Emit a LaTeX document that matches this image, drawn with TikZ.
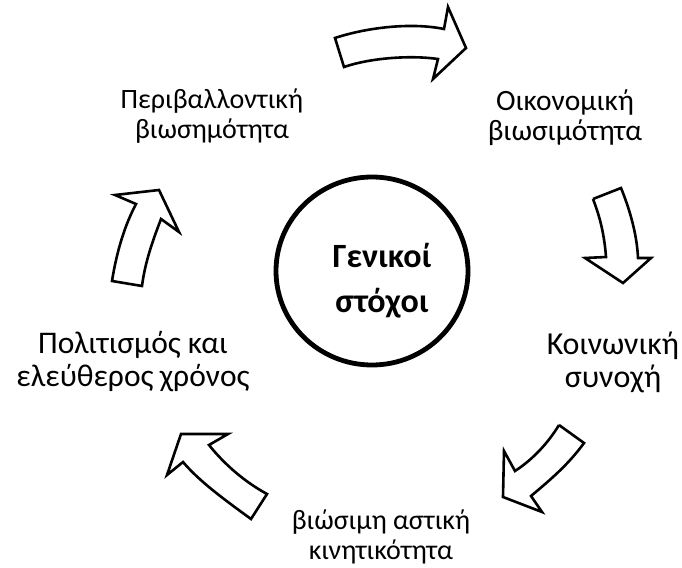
\documentclass[tikz,border=0pt]{standalone}
\usepackage{fontspec}
\setmainfont{Carlito}
\begin{document}
\begin{tikzpicture}[x=1pt,y=-1pt,
  label/.style={align=center,inner sep=0pt},
  goal/.style={align=center,inner sep=0pt,font=\fontsize{34}{45}\selectfont\bfseries},
  bentarrow/.style={draw=black,fill=white,line width=2.6pt,line join=miter}]
\useasboundingbox (0,0) rectangle (682,567);

% central goal
\draw[line width=4.8pt] (372,271) ellipse (96pt and 94pt);
\node[goal] (goal) at (382,281) {Γενικοί\\στόχοι};

% the five themes
\node[label,font=\fontsize{28}{30}\selectfont] (env) at (212,116) {Περιβαλλοντική\\βιωσημότητα};
\node[label,font=\fontsize{29.5}{30}\selectfont] (eco) at (565,118) {Οικονομική\\βιωσιμότητα};
\node[label,font=\fontsize{32}{33}\selectfont] (soc) at (613,362) {Κοινωνική\\συνοχή};
\node[label,font=\fontsize{28}{30}\selectfont] (mob) at (381,537) {βιώσιμη αστική\\κινητικότητα};
\node[label,font=\fontsize{31.5}{33}\selectfont] (cul) at (133,362) {Πολιτισμός και\\ελεύθερος\hspace{0.2em}χρόνος};

% curved block arrows between the themes
\draw[bentarrow] (335,38) .. controls (365,28) and (410,22) .. (444,29)
  -- (448,7) -- (466,48) -- (433,79) -- (438,59)
  .. controls (410,55) and (370,58) .. (344,67) -- cycle;

\draw[bentarrow] (593,199) -- (621,188)
  .. controls (630,210) and (637,235) .. (638,258)
  -- (651,258) -- (623,283) -- (585,258) -- (606,257)
  .. controls (604,230) and (598,212) .. (593,199);

\draw[bentarrow] (559,425) -- (584,443)
  .. controls (568,465) and (550,480) .. (531,496)
  -- (542,512) -- (503,497) -- (504,451) -- (515,471)
  .. controls (535,458) and (550,440) .. (559,425);

\draw[bentarrow] (181,434) -- (228,434) -- (209,445)
  .. controls (225,465) and (245,482) .. (267,494)
  -- (251,519)
  .. controls (225,500) and (200,482) .. (183,462)
  -- (167,475) -- cycle;

\draw[bentarrow] (112,281)
  .. controls (117,250) and (125,225) .. (136,204)
  -- (115,195) -- (159,190) -- (179,232) -- (161,219)
  .. controls (153,240) and (145,262) .. (142,286) -- cycle;
\end{tikzpicture}
\end{document}
